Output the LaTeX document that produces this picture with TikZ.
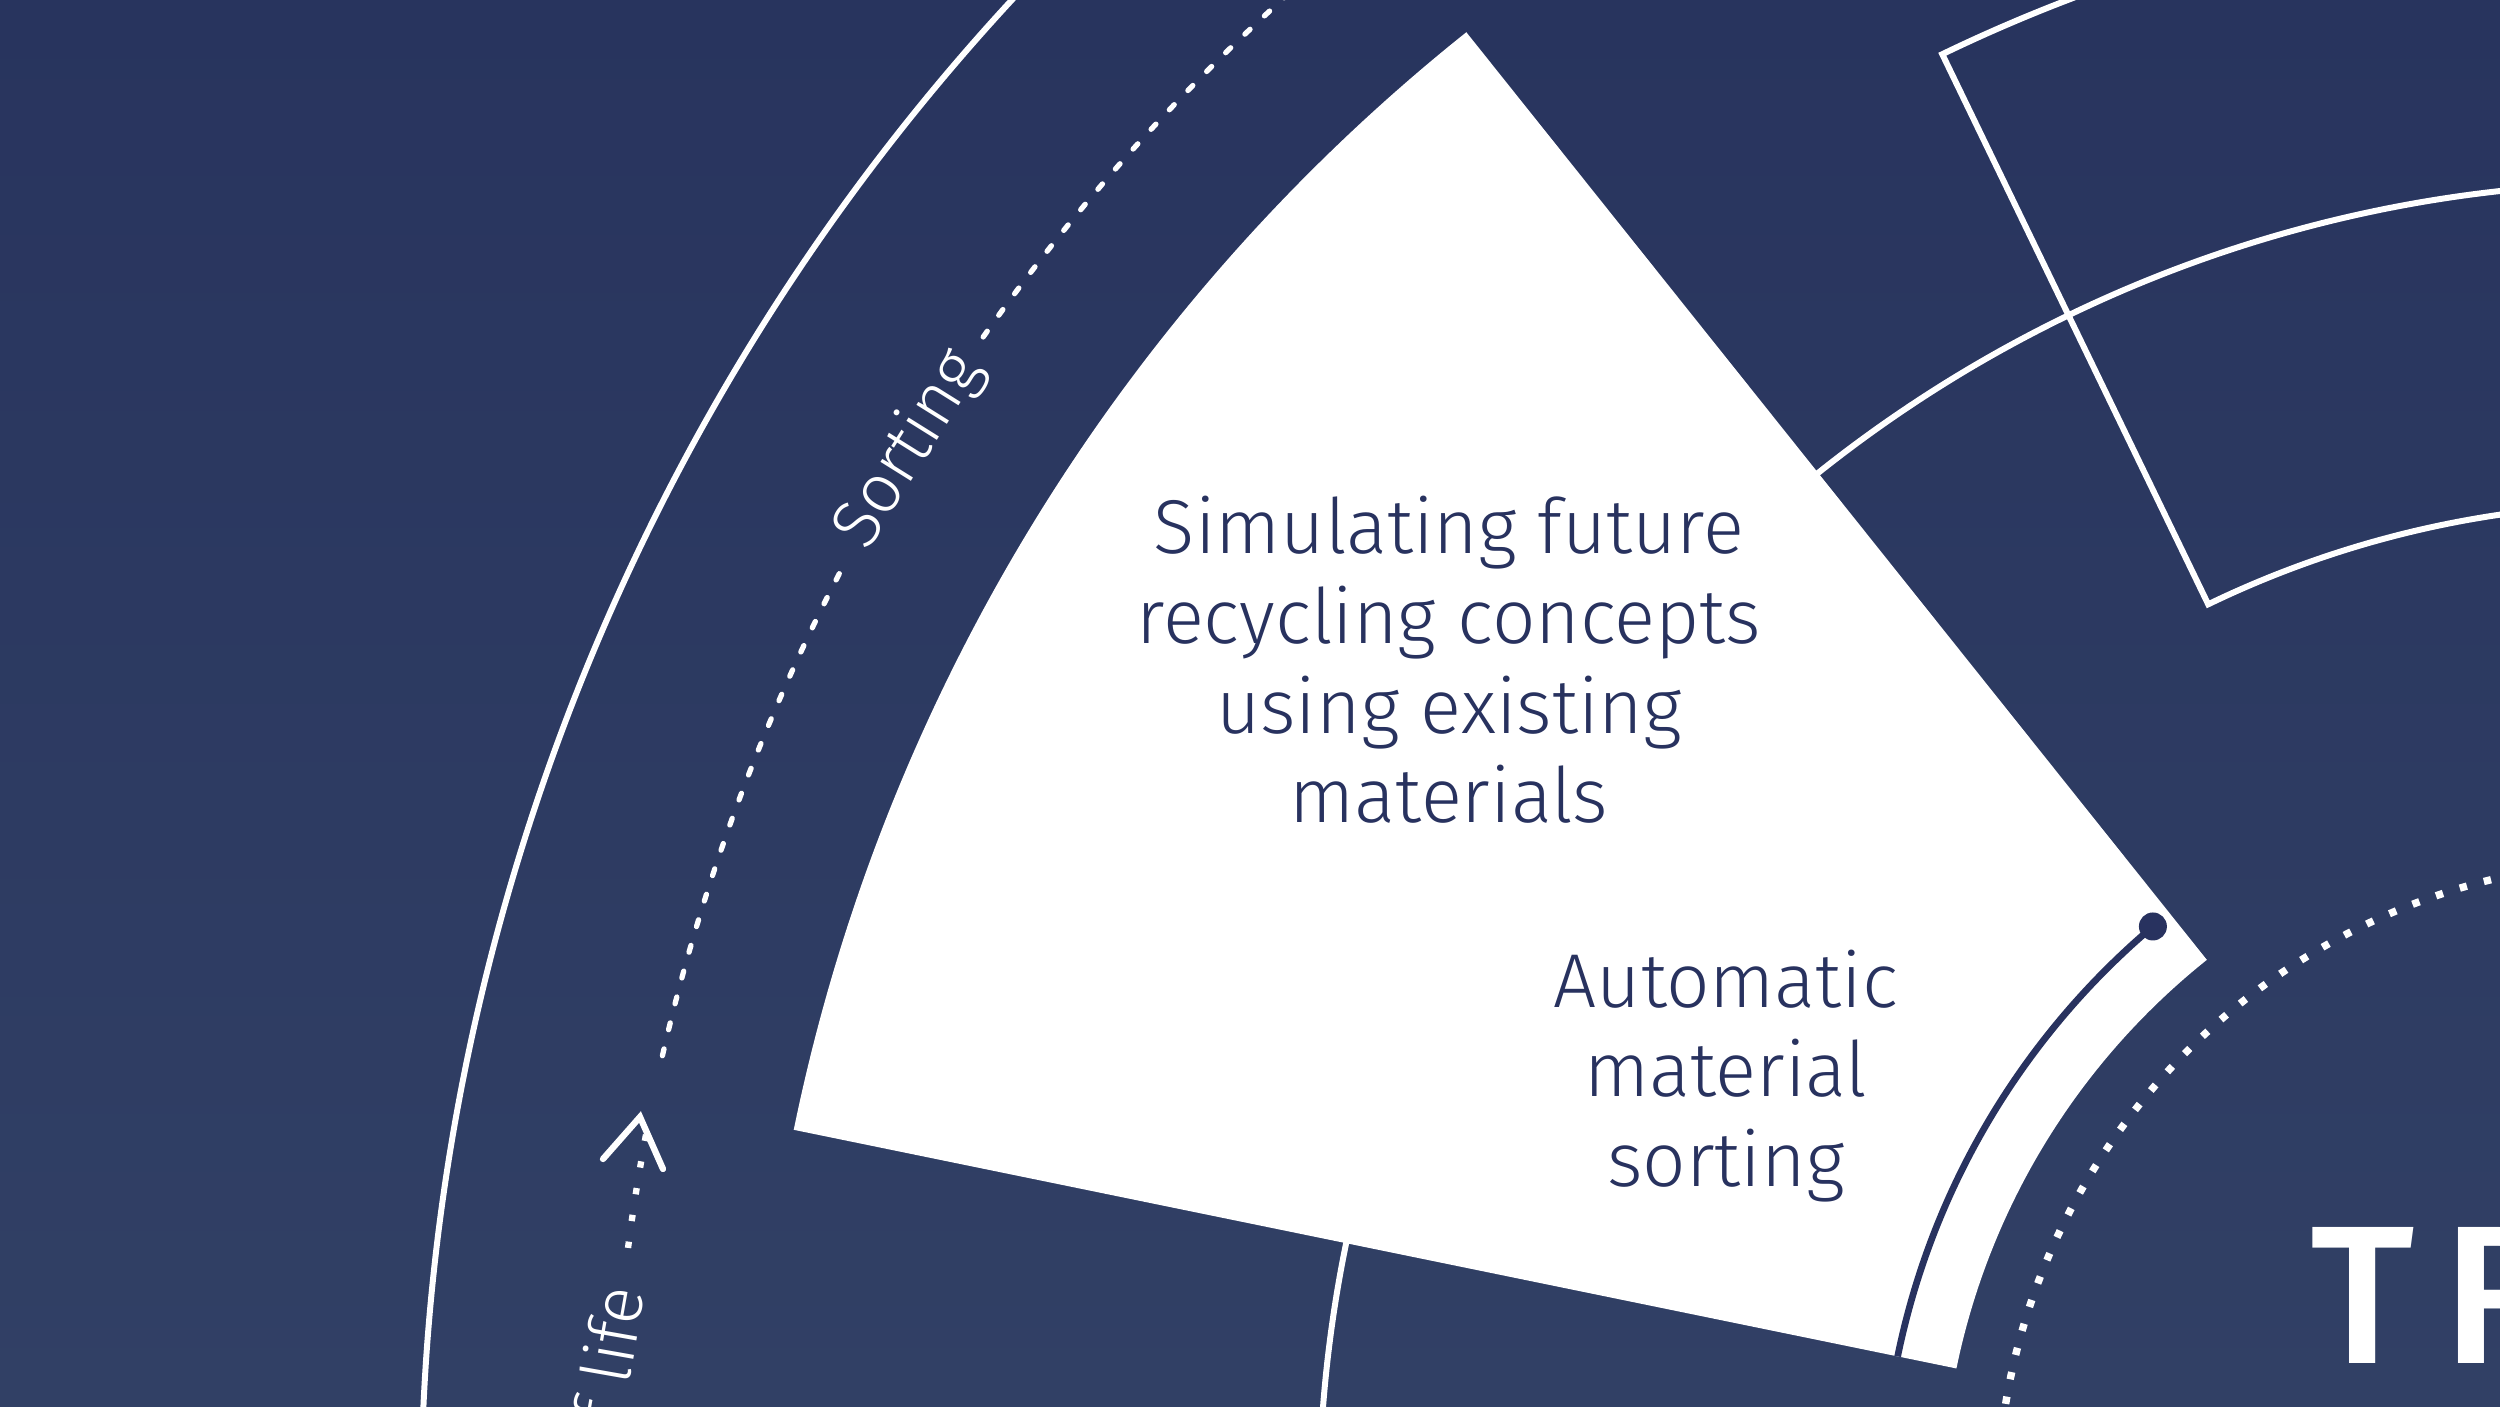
\documentclass[tikz,border=0pt]{standalone}
\usepackage{fontspec}
\setmainfont{Fira Sans Light}[BoldFont={Fira Sans SemiBold}]
\newfontfamily\bigfont{Fira Sans Medium}[LetterSpace=14]
\usepackage{tikz}
\definecolor{bgtop}{RGB}{40,52,94}
\definecolor{bgbot}{RGB}{49,64,101}
\definecolor{navy}{RGB}{40,50,95}

\begin{document}
\begin{tikzpicture}[x=0.01cm,y=0.01cm,
    whiteline/.style={white,line width=1.7pt},
    dashline/.style={white,line width=1.5pt,line cap=round,dash pattern=on 2pt off 5.6pt},
    squaredots/.style={white,line width=1.8pt,dash pattern=on 1.8pt off 5.9pt},
    boxtext/.style={text=navy,font=\fontsize{21.7}{25.5}\selectfont,align=center},
    arctext/.style={text=white,font=\fontsize{19.5}{24}\selectfont,inner sep=0pt}]
  \useasboundingbox (0,0) rectangle (2500,1406);
  \shade[top color=bgtop,bottom color=bgbot] (0,0) rectangle (2500,1406);
  \path[clip] (0,0) rectangle (2500,1406);
  \begin{scope}[shift={(2646,-104)}]
    % rings behind the sector
    \path[draw,whiteline] (130:2225) arc[start angle=130,end angle=182,radius=2225];
    \path[draw,whiteline] (90:1327) arc[start angle=90,end angle=182,radius=1327];
    \path[draw,whiteline,line join=miter] (90:1617) arc[start angle=90,end angle=115.8,radius=1617]
      -- (115.8:1006) arc[start angle=115.8,end angle=90,radius=1006];
    \path[draw,white,line width=2.1pt,dash pattern=on 2.1pt off 5pt] (95:649) arc[start angle=95,end angle=182,radius=649];
    % track with labels
    \path[draw,dashline] (167.1:2035) arc[start angle=167.1,end angle=152.4,radius=2035];
    \path[draw,dashline] (144.8:2035) arc[start angle=144.8,end angle=128,radius=2035];
    \path[draw,squaredots] (172.6:2035) arc[start angle=172.6,end angle=169.3,radius=2035];
    \node[arctext,rotate=58] (sorting) at (148.6:2035) {Sorting};
    \node[arctext,rotate=80,anchor=east] (endlife) at (173.7:2038) {f life};
    % white sector
    \path[fill=white] (128.6:1891) arc[start angle=128.6,end angle=168.4,radius=1891]
      -- (168.4:704) arc[start angle=168.4,end angle=128.6,radius=704] -- cycle;
    \path[draw,navy,line width=1.9pt] (130.2:764) arc[start angle=130.2,end angle=168.4,radius=764];
    \path[fill,navy] (130.2:764) circle[radius=14];
  \end{scope}
  \path[draw,white,line width=1.8pt,line cap=round,line join=miter] (603,247) -- (640,289) -- (663,237);
  \node[boxtext] (simtext) at (1449,746) {Simulating future\\recycling concepts\\using existing\\materials};
  \node[boxtext] (autotext) at (1726,330) {Automatic\\material\\sorting};
  \node[text=white,font=\bigfont\fontsize{56}{60}\selectfont,anchor=base west,inner sep=0pt] (tr) at (2310,43) {TR};
\end{tikzpicture}
\end{document}
